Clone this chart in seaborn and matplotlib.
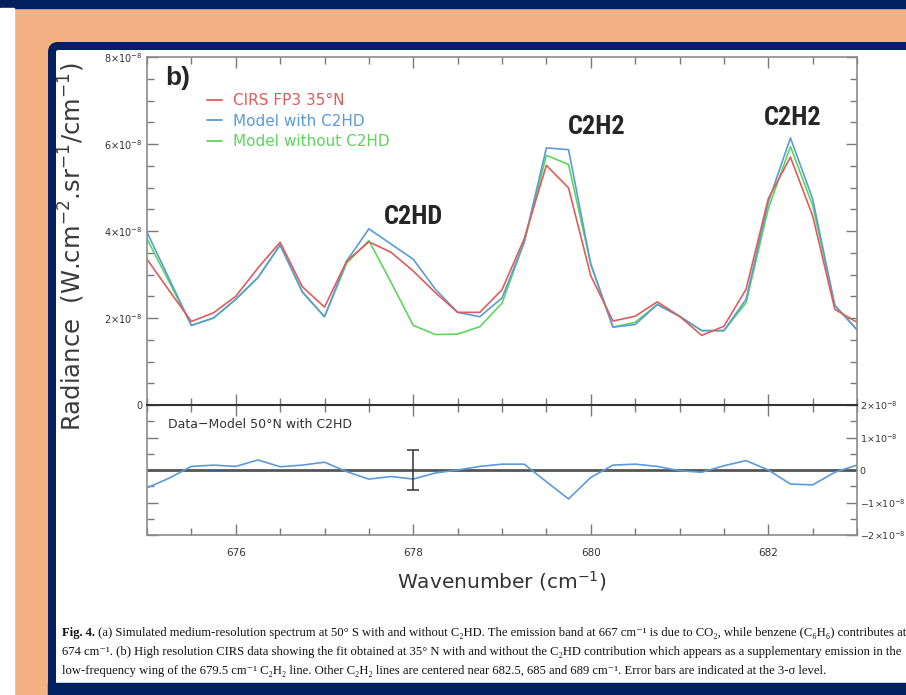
import numpy as np
import pandas as pd
import seaborn as sns
import matplotlib
matplotlib.use('Agg')
import matplotlib.pyplot as plt
from matplotlib import font_manager
from matplotlib.patches import Rectangle, FancyBboxPatch
from matplotlib.transforms import Affine2D
from matplotlib.lines import Line2D
from matplotlib.ticker import MultipleLocator

# wavenumber grid (cm-1), radiances in units of 1e-8 W/cm2/sr/cm-1
wavenumber = [675.0, 675.25, 675.5, 675.75, 676.0, 676.25, 676.5, 676.75,
              677.0, 677.25, 677.5, 677.75, 678.0, 678.25, 678.5, 678.75,
              679.0, 679.25, 679.5, 679.75, 680.0, 680.25, 680.5, 680.75,
              681.0, 681.25, 681.5, 681.75, 682.0, 682.25, 682.5, 682.75, 683.0]
cirs_35n = [3.35, 2.63, 1.92, 2.12, 2.50, 3.15, 3.74, 2.72,
            2.25, 3.31, 3.75, 3.51, 3.08, 2.58, 2.13, 2.13,
            2.65, 3.82, 5.51, 4.99, 2.97, 1.93, 2.04, 2.37,
            2.04, 1.60, 1.81, 2.66, 4.74, 5.70, 4.35, 2.20, 1.90]
model_with = [3.97, 2.90, 1.83, 2.00, 2.43, 2.93, 3.68, 2.60,
              2.03, 3.31, 4.05, 3.70, 3.35, 2.66, 2.13, 2.03,
              2.46, 3.74, 5.91, 5.87, 3.24, 1.79, 1.85, 2.31,
              2.04, 1.71, 1.71, 2.43, 4.66, 6.14, 4.74, 2.29, 1.73]
model_without = [3.82, 2.83, 1.83, 2.00, 2.43, 2.93, 3.68, 2.60,
                 2.03, 3.26, 3.78, 2.82, 1.83, 1.62, 1.63, 1.80,
                 2.34, 3.74, 5.74, 5.53, 3.24, 1.79, 1.90, 2.31,
                 2.04, 1.71, 1.71, 2.35, 4.51, 5.94, 4.59, 2.29, 1.73]
# data - model at 50N (1e-8 units)
residual_50n = [-0.55, -0.25, 0.11, 0.15, 0.11, 0.31, 0.10, 0.15,
                0.24, -0.05, -0.28, -0.20, -0.28, -0.09, 0.00, 0.11,
                0.18, 0.18, -0.36, -0.89, -0.23, 0.15, 0.18, 0.11,
                -0.02, -0.07, 0.13, 0.29, 0.00, -0.43, -0.46, -0.07, 0.15]
err_x = [678.0]
err_y = [0.0]
err_3sigma = [0.62]

series_names = ["CIRS FP3 35°N", "Model with C2HD", "Model without C2HD"]
series_colors = ["#e05c5c", "#5b9bd8", "#5cd65c"]
main_yticks = [0, 2, 4, 6, 8]
res_yticks = [-2, -1, 0, 1, 2]
xtick_vals = [676, 678, 680, 682]

caption = [
    "(a) Simulated medium-resolution spectrum at 50° S with and without C₂HD. The emission band at 667 cm⁻¹ is due to CO₂, while benzene (C₆H₆) contributes at",
    "674 cm⁻¹. (b) High resolution CIRS data showing the fit obtained at 35° N with and without the C₂HD contribution which appears as a supplementary emission in the",
    "low-frequency wing of the 679.5 cm⁻¹ C₂H₂ line. Other C₂H₂ lines are centered near 682.5, 685 and 689 cm⁻¹. Error bars are indicated at the 3-σ level.",
]

E = 1e-8
navy = "#002060"
salmon = "#f4b183"

sns.set_style("ticks")
plt.rcParams['font.family'] = ['DejaVu Sans']

available = {f.name for f in font_manager.fontManager.ttflist}
narrow = 'Liberation Sans'
for cand in ['Liberation Sans Narrow', 'Roboto Condensed', 'DejaVu Sans Condensed']:
    if cand in available:
        narrow = cand
        break

# long form table for seaborn
df = pd.concat([
    pd.DataFrame({'wn': wavenumber, 'rad': np.array(vals) * E, 'series': name})
    for name, vals in zip(series_names, [cirs_35n, model_with, model_without])
], ignore_index=True)

W, H = 906, 695
fig = plt.figure(figsize=(W / 100, H / 100), dpi=100, facecolor=salmon)
pix = Affine2D().scale(1 / W, 1 / H) + fig.transFigure

# slide background pieces
fig.add_artist(Rectangle((0, H - 8), W, 8, transform=pix, color=navy, zorder=-5))
fig.add_artist(Rectangle((0, 0), 14, H - 8, transform=pix, color='white', zorder=-5))
fig.add_artist(FancyBboxPatch((52, -30), W + 20, H - 46 + 30, transform=pix,
                              boxstyle='round,pad=0,rounding_size=6',
                              facecolor='white', edgecolor=navy, lw=8 * 0.72, zorder=-4))
fig.add_artist(Rectangle((48, 0), W, 12, transform=pix, color=navy, zorder=-3))

# axes: main x 147..857, y 57..405 ; residual y 405..535
ax = fig.add_axes([147 / W, 1 - 405 / H, 710 / W, 348 / H])
rax = fig.add_axes([147 / W, 1 - 535 / H, 710 / W, 130 / H], sharex=ax)

sns.lineplot(data=df, x='wn', y='rad', hue='series', hue_order=series_names[::-1],
             palette=dict(zip(series_names, series_colors)), lw=1.2, legend=False, ax=ax)
sns.lineplot(x=wavenumber, y=np.array(residual_50n) * E, color=series_colors[1], lw=1.2, ax=rax)
rax.axhline(0, color='#555555', lw=2, zorder=1)
rax.errorbar(err_x, np.array(err_y) * E, yerr=np.array(err_3sigma) * E, fmt='none',
             ecolor='#333333', elinewidth=1.1, capsize=4, capthick=1.1)

for a in (ax, rax):
    a.set_facecolor('white')
    a.set_xlim(675, 683)
    a.xaxis.set_major_locator(MultipleLocator(1))
    a.xaxis.set_minor_locator(MultipleLocator(0.5))
    a.yaxis.set_minor_locator(MultipleLocator(0.5 * E))
    a.tick_params(which='both', direction='in', top=True, right=True, left=True, bottom=True,
                  color='#7a7a7a', labelcolor='#333333', labelsize=7.5)
    a.tick_params(which='major', length=8, width=1)
    a.tick_params(which='minor', length=5, width=1)
    for s in a.spines.values():
        s.set_color('#8c8c8c')
        s.set_linewidth(1.2)
    a.set_xlabel('')
    a.set_ylabel('')

ax.set_ylim(0, 8 * E)
ax.set_yticks([v * E for v in main_yticks],
              ['0' if v == 0 else r'$%d{\times}10^{-8}$' % v for v in main_yticks])
ax.tick_params(labelbottom=False, labelsize=7)
ax.spines['bottom'].set_color('#333333')

rax.set_ylim(-2 * E, 2 * E)
rax.set_yticks([v * E for v in res_yticks],
               ['0' if v == 0 else r'$%d{\times}10^{-8}$' % v for v in res_yticks])
rax.tick_params(axis='y', labelleft=False, labelright=True, labelsize=6.8, pad=2)
rax.set_xticks(xtick_vals, [str(v) for v in xtick_vals])
rax.xaxis.set_minor_locator(MultipleLocator(0.5))
rax.tick_params(axis='x', pad=9)
rax.spines['top'].set_color('#333333')
rax.spines['top'].set_linewidth(1.5)

ax.set_ylabel(r'Radiance  (W.cm$^{-2}$.sr$^{-1}$/cm$^{-1}$)', fontsize=17.5, color='#3a3a3a')
ax.yaxis.set_label_coords(-0.085, 0.455)
rax.set_xlabel(r'Wavenumber (cm$^{-1}$)', fontsize=14.5, color='#333333', labelpad=8)

# legend
handles = [Line2D([], [], color=c, lw=1.3) for c in series_colors]
ax.legend(handles, series_names, loc='upper left', bbox_to_anchor=(0.065, 0.935),
          frameon=False, fontsize=11, handlelength=1.0, handletextpad=0.7,
          labelspacing=0.35, labelcolor='linecolor')

ax.text(0.025, 0.975, 'b)', transform=ax.transAxes, fontsize=19, fontweight='bold',
        ha='left', va='top', family='Liberation Sans')
ax.text(678.0, 4.33 * E, 'C2HD', fontsize=19, fontweight='bold', ha='center', va='center', family=narrow)
ax.text(680.07, 6.40 * E, 'C2H2', fontsize=19, fontweight='bold', ha='center', va='center', family=narrow)
ax.text(682.27, 6.60 * E, 'C2H2', fontsize=19, fontweight='bold', ha='center', va='center', family=narrow)

rax.text(0.03, 0.85, 'Data−Model 50°N with C2HD', transform=rax.transAxes, fontsize=9,
         color='#333333', ha='left', va='center')

# caption
serif = ['Liberation Serif', 'DejaVu Serif']
cap_size = 9.1
t0 = fig.text(62, H - 636, 'Fig. 4.', transform=pix, fontsize=cap_size, fontweight='bold',
              family=serif, ha='left', va='baseline', color='#111111')
fig.canvas.draw()
bb = t0.get_window_extent(renderer=fig.canvas.get_renderer())
fig.text(bb.x1 * W / fig.bbox.width, H - 636, ' ' + caption[0], transform=pix,
         fontsize=cap_size, family=serif, color='#111111', ha='left', va='baseline')
for i, line in enumerate(caption[1:]):
    fig.text(62, H - 655 - 19 * i, line, transform=pix, fontsize=cap_size, family=serif,
             ha='left', va='baseline', color='#111111')

fig.savefig('out.png', dpi=100, facecolor=salmon)
